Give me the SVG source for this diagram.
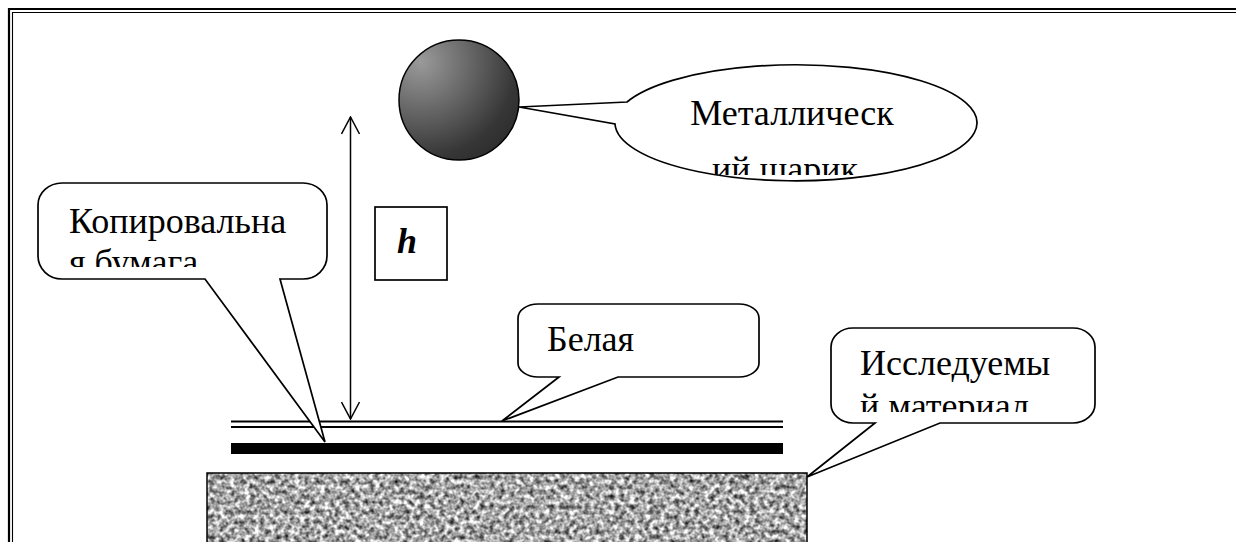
<svg xmlns="http://www.w3.org/2000/svg" width="1236" height="542" viewBox="0 0 1236 542">
  <style>
    .line { fill: none; stroke: #000; stroke-width: 1.5; }
    .callout { fill: #fff; stroke: #000; stroke-width: 1.7; stroke-linejoin: miter; }
  </style>
  <defs>
    <radialGradient id="ballShade" cx="0.18" cy="0.18" r="1" fx="0.18" fy="0.18">
      <stop offset="0" stop-color="#9a9a9a"/>
      <stop offset="0.45" stop-color="#626262"/>
      <stop offset="0.8" stop-color="#363636"/>
      <stop offset="1" stop-color="#2c2c2c"/>
    </radialGradient>
    <filter id="granite" x="0" y="0" width="100%" height="100%" color-interpolation-filters="sRGB">
      <feTurbulence type="fractalNoise" baseFrequency="0.2" numOctaves="2" seed="7" result="n"/>
      <feColorMatrix in="n" type="matrix" values="1.5 0 0 0 -0.1  1.5 0 0 0 -0.1  1.5 0 0 0 -0.1  0 0 0 0 1"/>
    </filter>
    <marker id="openHead" viewBox="0 0 20 20" refX="19" refY="10" markerWidth="20" markerHeight="20" markerUnits="userSpaceOnUse" orient="auto-start-reverse">
      <path d="M2,1 L19,10 L2,19" fill="none" stroke="#000" stroke-width="1.5"/>
    </marker>
    <clipPath id="clipKop"><rect x="40" y="185" width="285" height="82"/></clipPath>
    <clipPath id="clipIss"><rect x="833" y="330" width="260" height="82"/></clipPath>
    <clipPath id="clipMet"><rect x="640" y="70" width="310" height="105"/></clipPath>
  </defs>

  <rect width="1236" height="542" fill="#fff"/>

  <!-- page frame: thick outer rule with a thin inner rule -->
  <g id="frame">
    <path d="M9,542 V9 H1236" fill="none" stroke="#000" stroke-width="2.2"/>
    <path d="M12.5,542 V12.5 H1236" fill="none" stroke="#000" stroke-width="1.1"/>
  </g>

  <!-- specimen block -->
  <g id="material">
    <rect x="207" y="473" width="600" height="75" fill="#a0a0a0" filter="url(#granite)"/>
    <rect x="207" y="473" width="600" height="75" fill="none" stroke="#000" stroke-width="1.5"/>
  </g>

  <!-- carbon paper -->
  <g id="carbon-paper">
    <rect x="231" y="443" width="552" height="11" fill="#000"/>
  </g>

  <!-- white paper sheet -->
  <g id="white-paper">
    <line x1="231" y1="421.5" x2="783" y2="421.5" stroke="#000" stroke-width="2"/>
    <line x1="231" y1="427" x2="783" y2="427" stroke="#000" stroke-width="2"/>
  </g>

  <!-- metal ball -->
  <g id="ball">
    <circle cx="459" cy="100" r="60" fill="url(#ballShade)" stroke="#000" stroke-width="1.5"/>
  </g>

  <!-- drop height -->
  <g id="connectors">
    <line class="line" x1="350.5" y1="117" x2="350.5" y2="419" marker-start="url(#openHead)" marker-end="url(#openHead)"/>
  </g>

  <g font-family="'Liberation Serif', 'DejaVu Serif', serif" font-size="36" fill="#000">
    <g id="height-label">
      <rect x="375" y="207" width="72" height="73" fill="#fff" stroke="#000" stroke-width="1.7"/>
      <text x="407" y="253" text-anchor="middle" font-weight="bold" font-style="italic">h</text>
    </g>

    <!-- callout: metal ball -->
    <g id="callout-ball">
      <path class="callout" d="M627,102 A181,58 0 1 1 615,124 L519,107 Z"/>
      <g clip-path="url(#clipMet)">
        <text x="792" y="125" text-anchor="middle">Металлическ</text>
        <text x="785" y="181" text-anchor="middle">ий шарик</text>
      </g>
    </g>

    <!-- callout: carbon paper -->
    <g id="callout-carbon">
      <path class="callout" d="M62,183 H303 A24,22 0 0 1 327,205 V256 A24,23 0 0 1 303,279 H280 L325,442 L205,279 H62 A24,23 0 0 1 38,256 V205 A24,22 0 0 1 62,183 Z"/>
      <g clip-path="url(#clipKop)">
        <text x="69" y="233">Копировальна</text>
        <text x="69" y="274">я бумага</text>
      </g>
    </g>

    <!-- callout: white paper -->
    <g id="callout-white">
      <path class="callout" d="M538,304 H739 A20,14 0 0 1 759,318 V363 A20,14 0 0 1 739,377 H618 L502,421 L559,377 H538 A20,14 0 0 1 518,363 V318 A20,14 0 0 1 538,304 Z"/>
      <text x="547" y="351">Белая</text>
    </g>

    <!-- callout: specimen -->
    <g id="callout-material">
      <path class="callout" d="M853,328 H1073 A22,19 0 0 1 1095,347 V404 A22,19 0 0 1 1073,423 H940 L807,477 L875,423 H853 A22,19 0 0 1 831,404 V347 A22,19 0 0 1 853,328 Z"/>
      <g clip-path="url(#clipIss)">
        <text x="860" y="375">Исследуемы</text>
        <text x="860" y="418">й материал</text>
      </g>
    </g>
  </g>
</svg>
